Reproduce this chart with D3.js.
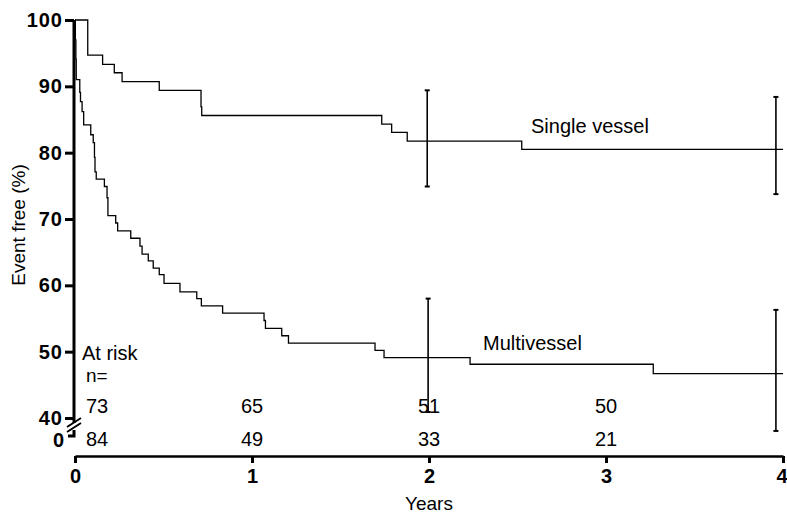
<!DOCTYPE html>
<html>
<head>
<meta charset="utf-8">
<script src="https://cdn.jsdelivr.net/npm/d3@7"></script>
<style>
  html, body { margin: 0; padding: 0; background: #fff; }
  svg { display: block; font-family: "Liberation Sans", Arial, Helvetica, sans-serif; }
</style>
</head>
<body>
<svg id="chart" width="787" height="515"></svg>
<script>
// ---- data ----
const singleTimes  = [0, 0.072, 0.156, 0.222, 0.266, 0.476, 0.712, 0.716, 1.733, 1.789, 1.877, 2.524, 4.0];
const singleValues = [100, 94.7, 93.3, 92.05, 90.7, 89.4, 86.9, 85.6, 84.3, 83.05, 81.75, 80.5, 80.5];

const multiTimes  = [0, 0.002, 0.005, 0.007, 0.027, 0.031, 0.040, 0.049, 0.089, 0.103, 0.110, 0.113, 0.120,
                     0.166, 0.181, 0.186, 0.230, 0.241, 0.315, 0.367, 0.379, 0.414, 0.442, 0.476, 0.503,
                     0.593, 0.688, 0.714, 0.834, 1.068, 1.076, 1.168, 1.206, 1.695, 1.746, 2.232, 3.267, 4.0];
const multiValues = [100, 97.0, 94.1, 91.0, 89.1, 87.7, 86.2, 84.2, 82.7, 81.5, 79.3, 77.1, 76.0,
                     74.9, 73.2, 70.5, 69.4, 68.2, 67.1, 65.9, 64.7, 63.7, 62.6, 61.6, 60.3,
                     59.0, 58.0, 56.9, 55.8, 54.7, 53.5, 52.4, 51.3, 50.2, 49.1, 48.1, 46.7, 46.7];

// 95% confidence bars
const singleErrTimes = [1.99, 3.96];
const singleErrLow   = [74.9, 73.75];
const singleErrHigh  = [89.4, 88.4];
const multiErrTimes  = [1.995, 3.96];
const multiErrLow    = [40.9, 38.05];
const multiErrHigh   = [58.0, 56.3];

const xTicks = [0, 1, 2, 3, 4];
const yTicks = [40, 50, 60, 70, 80, 90, 100];

const riskTimes  = [0, 1, 2, 3];
const riskSingle = [73, 65, 51, 50];
const riskMulti  = [84, 49, 33, 21];

// ---- drawing ----
const svg = d3.select("#chart");
const x = d3.scaleLinear().domain([0, 4]).range([75, 783]);
const y = d3.scaleLinear().domain([40, 100]).range([418, 20]);
const axisY = 456;          // x-axis baseline
const yAxisX = 74;          // y-axis position
const zeroY = y(40) + 18;   // position of the broken-axis "0"

// Y axis (40..100)
const yAxis = d3.axisLeft(y).tickValues(yTicks).tickSize(9).tickPadding(2).tickSizeOuter(0);
const gy = svg.append("g").attr("transform", `translate(${yAxisX},0)`).call(yAxis);
gy.select(".domain").attr("stroke-width", 3).attr("d", `M0,${y(100)}V${y(40) + 5}`);
gy.selectAll(".tick line").attr("stroke-width", 3);
gy.selectAll(".tick text").attr("font-size", 20).attr("font-weight", "bold")
  .attr("letter-spacing", 1).attr("fill", "#000").attr("font-family", "Liberation Sans, Arial, sans-serif");

// broken axis part with "0"
const gz = svg.append("g");
gz.append("path").attr("d", `M${yAxisX - 6},${zeroY}H${yAxisX}V${zeroY - 6}`)
  .attr("fill", "none").attr("stroke", "#000").attr("stroke-width", 3);
gz.append("path").attr("d",
  `M${yAxisX - 7},${zeroY - 4}L${yAxisX + 7},${zeroY - 13}M${yAxisX - 7},${zeroY - 9}L${yAxisX + 7},${zeroY - 18}`)
  .attr("fill", "none").attr("stroke", "#000").attr("stroke-width", 2);
gz.append("text").attr("x", yAxisX - 10).attr("y", zeroY + 5).attr("dy", "0.32em")
  .attr("text-anchor", "end").attr("font-size", 20).attr("font-weight", "bold").text("0");

// X axis
const xAxis = d3.axisBottom(x).tickValues(xTicks).tickSize(7).tickPadding(6).tickSizeOuter(0)
  .tickFormat(d3.format("d"));
const gx = svg.append("g").attr("transform", `translate(0,${axisY})`).call(xAxis);
gx.select(".domain").attr("stroke-width", 2.5);
gx.selectAll(".tick line").attr("stroke-width", 3);
gx.selectAll(".tick text").attr("font-size", 20).attr("font-weight", "bold").attr("fill", "#000")
  .attr("font-family", "Liberation Sans, Arial, sans-serif");
// keep the last label inside the page edge
gx.selectAll(".tick text").filter(d => d === 4).attr("text-anchor", "end").attr("x", 4);

// axis titles
svg.append("text").attr("x", x(2)).attr("y", 510).attr("text-anchor", "middle")
  .attr("font-size", 19).text("Years");
svg.append("text").attr("transform", `translate(25,${225}) rotate(-90)`).attr("text-anchor", "middle")
  .attr("font-size", 19).text("Event free (%)");

// survival curves
const line = d3.line().x(d => x(d[0])).y(d => y(d[1])).curve(d3.curveStepAfter);
const single = singleTimes.map((t, i) => [t, singleValues[i]]);
const multi = multiTimes.map((t, i) => [t, multiValues[i]]);
svg.append("path").datum(single).attr("d", line).attr("fill", "none").attr("stroke", "#000").attr("stroke-width", 1.3);
svg.append("path").datum(multi).attr("d", line).attr("fill", "none").attr("stroke", "#000").attr("stroke-width", 1.3);

// error bars
function errBars(times, lows, highs) {
  const g = svg.append("g").attr("stroke", "#000").attr("fill", "none");
  times.forEach((t, i) => {
    const cx = x(t);
    g.append("line").attr("x1", cx).attr("x2", cx).attr("y1", y(highs[i])).attr("y2", y(lows[i])).attr("stroke-width", 1.6);
    g.append("line").attr("x1", cx - 2.5).attr("x2", cx + 2.5).attr("y1", y(highs[i])).attr("y2", y(highs[i])).attr("stroke-width", 2);
    g.append("line").attr("x1", cx - 2.5).attr("x2", cx + 2.5).attr("y1", y(lows[i])).attr("y2", y(lows[i])).attr("stroke-width", 2);
  });
}
errBars(singleErrTimes, singleErrLow, singleErrHigh);
errBars(multiErrTimes, multiErrLow, multiErrHigh);

// curve labels
svg.append("text").attr("x", 531).attr("y", 133).attr("font-size", 20).text("Single vessel");
svg.append("text").attr("x", 483).attr("y", 350).attr("font-size", 20).text("Multivessel");

// at-risk table
svg.append("text").attr("x", 82).attr("y", 360).attr("font-size", 20).text("At risk");
svg.append("text").attr("x", 86).attr("y", 382).attr("font-size", 19).text("n=");
function riskRow(vals, baseline) {
  svg.append("g").selectAll("text").data(vals).join("text")
    .attr("x", (d, i) => riskTimes[i] === 0 ? x(0) + 22 : x(riskTimes[i]))
    .attr("y", baseline).attr("text-anchor", "middle").attr("font-size", 20).text(d => d);
}
riskRow(riskSingle, 413);
riskRow(riskMulti, 446);
</script>
</body>
</html>
